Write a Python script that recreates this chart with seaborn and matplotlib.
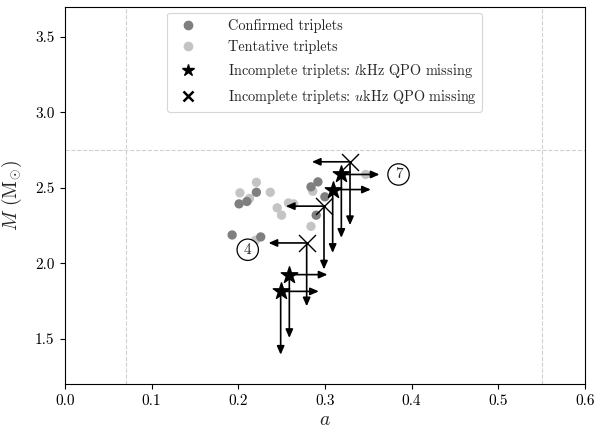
import matplotlib
matplotlib.use("Agg")
import matplotlib.pyplot as plt
from matplotlib.lines import Line2D
import seaborn as sns
import pandas as pd

# ---- data ----
confirmed_a = [0.201, 0.210, 0.221, 0.193, 0.226, 0.284, 0.292, 0.300, 0.290]
confirmed_M = [2.394, 2.410, 2.471, 2.188, 2.175, 2.507, 2.540, 2.441, 2.319]
tentative_a = [0.202, 0.213, 0.221, 0.237, 0.220, 0.245, 0.250, 0.258, 0.264, 0.286, 0.284, 0.347]
tentative_M = [2.467, 2.430, 2.537, 2.471, 2.153, 2.368, 2.319, 2.400, 2.394, 2.478, 2.245, 2.589]
lmiss_a = [0.319, 0.309, 0.259, 0.249]
lmiss_M = [2.589, 2.489, 1.925, 1.814]
umiss_a = [0.329, 0.299, 0.279]
umiss_M = [2.673, 2.379, 2.135]
arrow_da = 0.044
arrow_dM = 0.42
label_text = ["4", "7"]
label_a = [0.211, 0.385]
label_M = [2.09, 2.589]
vlines_a = [0.07, 0.55]
hline_M = [2.75]
xticks = [0.0, 0.1, 0.2, 0.3, 0.4, 0.5, 0.6]
yticks = [1.5, 2.0, 2.5, 3.0, 3.5]

sns.set_style("ticks")
plt.rcParams["font.family"] = ["cmr10", "DejaVu Serif"]
plt.rcParams["mathtext.fontset"] = "cm"
plt.rcParams["axes.formatter.use_mathtext"] = True

fig = plt.figure(figsize=(5.95, 4.30), dpi=100)
ax = fig.add_axes([0.109, 0.107, 0.874, 0.877])

for v in vlines_a:
    ax.axvline(v, color="#d0d0d0", ls="--", lw=0.8, zorder=0)
for h in hline_M:
    ax.axhline(h, color="#d0d0d0", ls="--", lw=0.8, zorder=0)

light = "#c4c4c4"
dark = "#7f7f7f"
tdf = pd.DataFrame({"a": tentative_a, "M": tentative_M})
cdf = pd.DataFrame({"a": confirmed_a, "M": confirmed_M})
sns.scatterplot(data=tdf, x="a", y="M", color=light, s=45, edgecolor="none", ax=ax, zorder=2)
sns.scatterplot(data=cdf, x="a", y="M", color=dark, s=45, edgecolor="none", ax=ax, zorder=2)

arr = dict(arrowstyle="-|>,head_length=0.5,head_width=0.22", color="black", lw=1.2,
           mutation_scale=10, shrinkA=0, shrinkB=0)
for a, M in zip(lmiss_a, lmiss_M):
    ax.annotate("", xy=(a + arrow_da, M), xytext=(a, M), arrowprops=arr, zorder=3)
    ax.annotate("", xy=(a, M - arrow_dM), xytext=(a, M), arrowprops=arr, zorder=3)
for a, M in zip(umiss_a, umiss_M):
    ax.annotate("", xy=(a - arrow_da, M), xytext=(a, M), arrowprops=arr, zorder=3)
    ax.annotate("", xy=(a, M - arrow_dM), xytext=(a, M), arrowprops=arr, zorder=3)

sdf = pd.DataFrame({"a": lmiss_a, "M": lmiss_M})
udf = pd.DataFrame({"a": umiss_a, "M": umiss_M})
sns.scatterplot(data=sdf, x="a", y="M", color="black", marker="*", s=155, edgecolor="black", ax=ax, zorder=4)
sns.scatterplot(data=udf, x="a", y="M", color="black", marker="x", s=150, linewidth=1.0, ax=ax, zorder=4)

for t, a, M in zip(label_text, label_a, label_M):
    ax.text(a, M, t, ha="center", va="center", fontsize=11, zorder=5,
            bbox=dict(boxstyle="circle,pad=0.25", fc="white", ec="black", lw=0.9))

ax.set_xlim(0.0, 0.6)
ax.set_ylim(1.2, 3.7)
ax.set_xticks(xticks)
ax.set_yticks(yticks)
ax.set_xticklabels([f"{v:.1f}" for v in xticks], fontsize=11)
ax.set_yticklabels([f"{v:.1f}" for v in yticks], fontsize=11)
ax.set_xlabel("$a$", fontsize=14, labelpad=2)
ax.set_ylabel(r"$M$ ($\mathrm{M}_{\odot}$)", fontsize=14, labelpad=8)
for s in ax.spines.values():
    s.set_visible(True)
    s.set_color("black")
    s.set_linewidth(0.8)
ax.tick_params(direction="out", length=3.5, width=0.8, colors="black", pad=4)

handles = [
    Line2D([], [], ls="none", marker="o", color=dark, markersize=6),
    Line2D([], [], ls="none", marker="o", color=light, markersize=6),
    Line2D([], [], ls="none", marker="*", color="black", markersize=9),
    Line2D([], [], ls="none", marker="x", color="black", markersize=7, markeredgewidth=1.8),
]
labels = ["Confirmed triplets", "Tentative triplets",
          "Incomplete triplets: $l$kHz QPO missing",
          "Incomplete triplets: $u$kHz QPO missing"]
leg = ax.legend(handles, labels, loc="upper center", fontsize=10.3, frameon=True,
                handletextpad=1.8, borderaxespad=0.4, labelspacing=0.55)
leg.get_frame().set_edgecolor("#cccccc")
leg.get_frame().set_linewidth(0.8)

fig.savefig("out.png", dpi=100)
